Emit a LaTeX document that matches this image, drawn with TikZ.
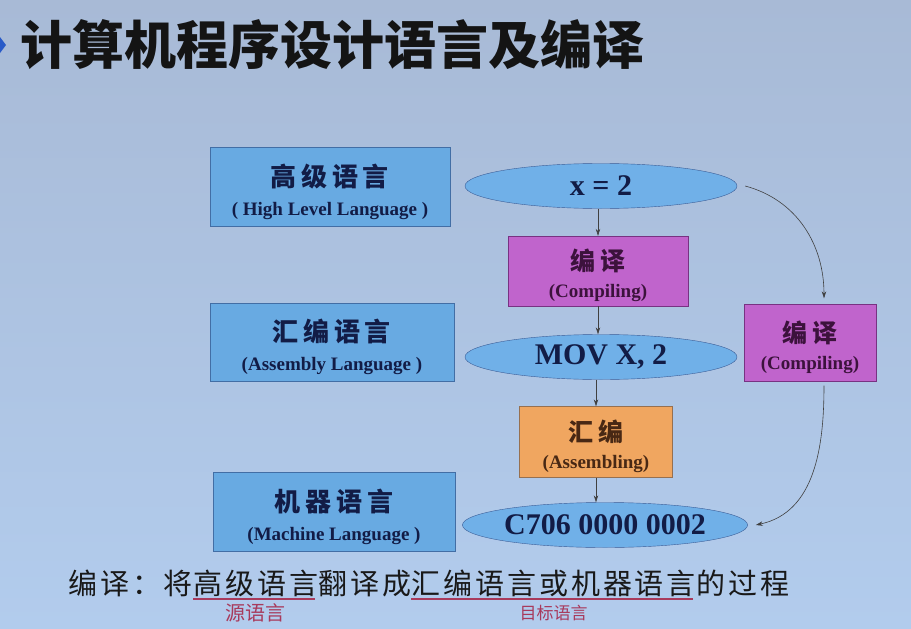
\documentclass[tikz,border=0pt]{standalone}
\usepackage{fontspec}
\setmainfont{Liberation Serif}
\newfontfamily\cjk{Noto Sans CJK SC}
\newfontfamily\cjkwide[LetterSpace=18]{Noto Sans CJK SC}
\newfontfamily\cjkline[LetterSpace=10]{Noto Sans CJK SC}
\usetikzlibrary{shapes.geometric,arrows.meta}
\definecolor{bgtop}{RGB}{168,186,214}
\definecolor{bgmid}{RGB}{192,214,242}
\definecolor{bgbot}{RGB}{178,204,237}
\definecolor{langfill}{RGB}{104,170,226}
\definecolor{langedge}{RGB}{66,110,165}
\definecolor{codefill}{RGB}{112,176,232}
\definecolor{codeedge}{RGB}{58,92,150}
\definecolor{compfill}{RGB}{192,100,204}
\definecolor{compedge}{RGB}{120,50,130}
\definecolor{asmfill}{RGB}{240,166,96}
\definecolor{asmedge}{RGB}{150,112,80}
\definecolor{navy}{RGB}{18,28,70}
\definecolor{plum}{RGB}{60,18,60}
\definecolor{brown}{RGB}{72,40,20}
\definecolor{markblue}{RGB}{40,90,200}
\definecolor{lineRed}{RGB}{168,58,92}
\begin{document}
\begin{tikzpicture}[x=1pt,y=-1pt,
  langbox/.style={draw=langedge,fill=langfill,minimum width=240pt,minimum height=79pt,align=center,text=navy,font=\bfseries},
  code/.style={ellipse,draw=codeedge,fill=codefill,minimum width=272pt,minimum height=45pt,inner sep=0pt,text=navy,font=\bfseries\fontsize{30}{30}\selectfont},
  stepbox/.style={draw=#1edge,fill=#1fill,align=center,font=\bfseries},
  flow/.style={-{Stealth[length=7pt,width=4.5pt]},draw=black!75,line width=0.6pt},
  sent/.style={inner sep=0pt,anchor=base west,font=\cjkline\fontsize{29}{29}\selectfont,text=black!90},
  tag/.style={inner sep=0pt,text=lineRed,font=\cjk}]
\useasboundingbox (0,0) rectangle (911,629);
\shade[top color=bgtop,middle color=bgmid,bottom color=bgbot] (0,0) rectangle (911,629);
\fill[markblue] (0,37) -- (6,45) -- (0,53) -- cycle;
\node[anchor=west,inner sep=0pt,text=black!92,font=\cjk\bfseries\fontsize{52}{52}\selectfont] (title) at (20,45) {计算机程序设计语言及编译};

\node[langbox] (hll) at (330,187) {\rule{0pt}{32pt}\cjkwide\fontsize{26}{26}\selectfont 高级语言\\[12pt]\fontsize{19}{19}\selectfont ( High Level Language )};
\node[langbox,minimum width=244pt,minimum height=78pt] (asl) at (332,342) {\rule{0pt}{32pt}\cjkwide\fontsize{26}{26}\selectfont 汇编语言\\[12pt]\fontsize{19}{19}\selectfont (Assembly Language )};
\node[langbox,minimum width=242pt] (mcl) at (334,512) {\rule{0pt}{32pt}\cjkwide\fontsize{26}{26}\selectfont 机器语言\\[12pt]\fontsize{19}{19}\selectfont (Machine Language )};

\node[code] (src) at (601,186) {x = 2};
\node[code] (asm) at (601,357) {MOV X, 2};
\node[code] (mc) at (605,525) {C706 0000 0002};

\node[stepbox=comp,minimum width=180pt,minimum height=70pt,text=plum] (cp) at (598,271) {\rule{0pt}{30pt}\cjkwide\fontsize{25}{25}\selectfont 编译\\[11pt]\fontsize{19}{19}\selectfont (Compiling)};
\node[stepbox=asm,minimum width=153pt,minimum height=71pt,text=brown] (as) at (596,442) {\rule{0pt}{30pt}\cjkwide\fontsize{25}{25}\selectfont 汇编\\[11pt]\fontsize{19}{19}\selectfont (Assembling)};
\node[stepbox=comp,minimum width=132pt,minimum height=77pt,text=plum] (rc) at (810,343) {\rule{0pt}{30pt}\cjkwide\fontsize{25}{25}\selectfont 编译\\[11pt]\fontsize{19}{19}\selectfont (Compiling)};

\draw[flow] (cp.north |- src.south) -- (cp.north);
\draw[flow] (cp.south) -- (cp.south |- asm.north);
\draw[flow] (as.north |- asm.south) -- (as.north);
\draw[flow] (as.south) -- (as.south |- mc.north);
\draw[flow] ([xshift=8pt]src.east) to[out=-15,in=90] ([xshift=14pt,yshift=6pt]rc.north);
\draw[flow] ([xshift=14pt,yshift=-4pt]rc.south) to[out=-90,in=12] ([xshift=8pt]mc.east);

\node[sent] (s1) at (68,594) {编译：将};
\node[sent] (s2) at (s1.base east) {高级语言};
\node[sent] (s3) at (s2.base east) {翻译成};
\node[sent] (s4) at (s3.base east) {汇编语言或机器语言};
\node[sent] (s5) at (s4.base east) {的过程};
\draw[lineRed,line width=1.6pt] ([yshift=-5pt]s2.base west) -- ([yshift=-5pt,xshift=-3pt]s2.base east);
\draw[lineRed,line width=1.6pt] ([yshift=-5pt]s4.base west) -- ([yshift=-5pt,xshift=-3pt]s4.base east);
\node[tag,font=\cjk\fontsize{20}{20}\selectfont] (srclang) at ([yshift=-19pt]s2.base) {源语言};
\node[tag,font=\cjk\fontsize{17}{17}\selectfont] (tgtlang) at ([yshift=-19pt]s4.base) {目标语言};
\end{tikzpicture}
\end{document}
